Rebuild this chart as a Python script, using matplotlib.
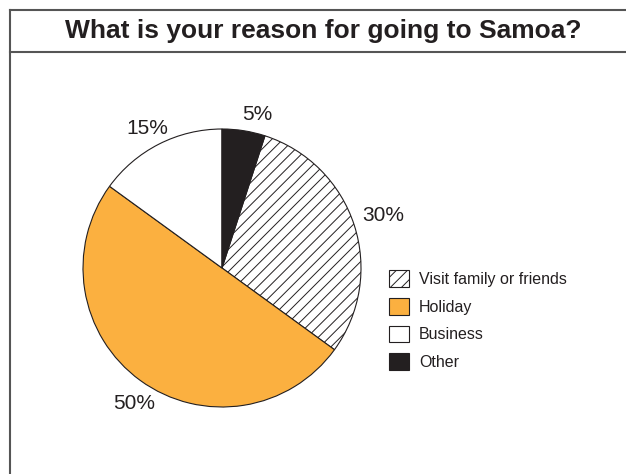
import matplotlib
matplotlib.use('Agg')
import matplotlib.pyplot as plt
import numpy as np
from matplotlib.lines import Line2D

plt.rcParams['font.family'] = ['Liberation Sans', 'DejaVu Sans']

categorias = ['Visit family or friends', 'Holiday', 'Business', 'Other']
valores = [30, 50, 15, 5]
rotulos = ['30%', '50%', '15%', '5%']
cores = ['white', '#FBB040', 'white', '#231F20']
hachuras = ['///', '', '', '']
titulo = 'What is your reason for going to Samoa?'

W, H = 626, 474
fig = plt.figure(figsize=(W / 100, H / 100), dpi=100)

# moldura e linha do titulo
cor_borda = '#555555'
fig.add_artist(Line2D([10 / W, 10 / W], [0, 1 - 10 / H], color=cor_borda, lw=1.5))
fig.add_artist(Line2D([10 / W, 1], [1 - 10 / H, 1 - 10 / H], color=cor_borda, lw=1.5))
fig.add_artist(Line2D([10 / W, 1], [1 - 52 / H, 1 - 52 / H], color=cor_borda, lw=1.5))

fig.text(323 / W, 1 - 31 / H, titulo, ha='center', va='center',
         fontsize=19, fontweight='bold', color='#231F20')

# pizza
cx, cy, r = 222, 474 - 268, 139
ax = fig.add_axes([(cx - r) / W, (cy - r) / H, 2 * r / W, 2 * r / H])
plt.rcParams['hatch.linewidth'] = 0.7
fatias, _ = ax.pie(valores, colors=cores, startangle=72, counterclock=False,
                   wedgeprops=dict(edgecolor='#231F20', linewidth=0.8))
for f, h in zip(fatias, hachuras):
    f.set_hatch(h)
ax.set_xlim(-1, 1)
ax.set_ylim(-1, 1)
ax.set_aspect('equal')
ax.axis('off')

# posicao dos rotulos (distancia e ajuste de angulo)
distancias = [1.22, 1.16, 1.14, 1.13]
ajuste_ang = [0, 3, 1, -4]
for f, txt, d, da in zip(fatias, rotulos, distancias, ajuste_ang):
    ang = np.deg2rad((f.theta1 + f.theta2) / 2 + da)
    ax.text(d * np.cos(ang), d * np.sin(ang), txt, ha='center', va='center',
            fontsize=15, color='#231F20')

leg = fig.legend(fatias, categorias, loc='upper left',
                 bbox_to_anchor=(389 / W, 1 - 270 / H), frameon=False,
                 fontsize=11.5, handlelength=1.25, handleheight=1.25,
                 handletextpad=0.62, labelspacing=0.68, borderpad=0,
                 borderaxespad=0)
for t in leg.get_texts():
    t.set_color('#231F20')

plt.savefig('out.png', dpi=100)
